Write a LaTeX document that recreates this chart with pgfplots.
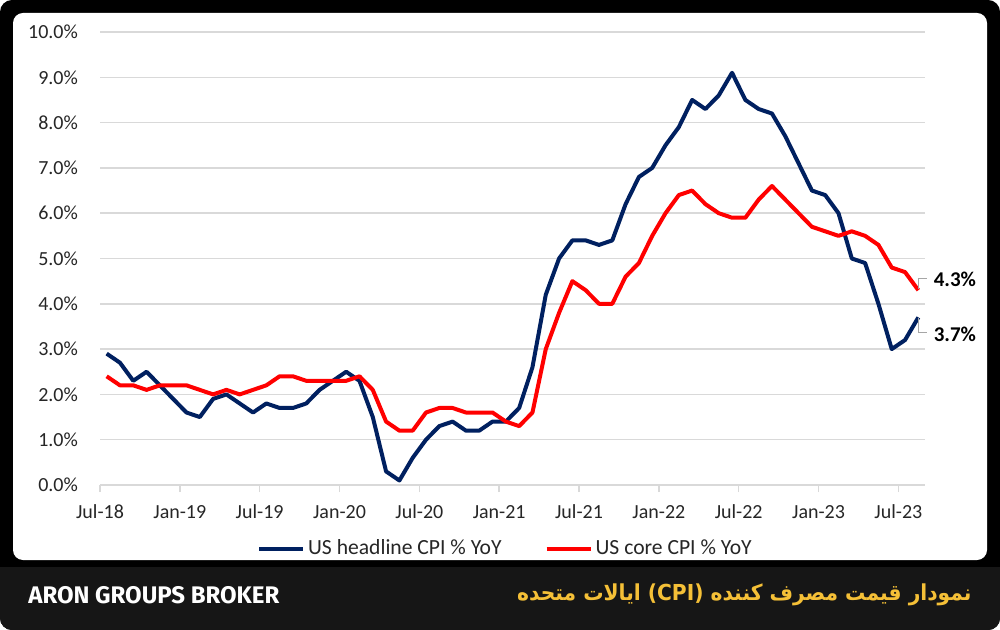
\documentclass[border=0pt]{standalone}
\usepackage{fontspec}
\setmainfont{Carlito}
\newfontfamily\arabicfont[Script=Arabic]{DejaVu Sans}
\newfontfamily\brandfont{Fira Sans}
\usepackage{pgfplots}
\pgfplotsset{compat=1.18}
\usepackage{pgfplotstable}
\TeXXeTstate=1
\definecolor{cpiblue}{RGB}{0,32,96}
\definecolor{cpired}{RGB}{255,0,0}
\definecolor{gridgray}{RGB}{217,217,217}
\definecolor{gold}{RGB}{245,192,55}
\definecolor{barbg}{RGB}{22,22,22}

\pgfplotstableread{
x head core
0.5 2.9 2.4
1.5 2.7 2.2
2.5 2.3 2.2
3.5 2.5 2.1
4.5 2.2 2.2
5.5 1.9 2.2
6.5 1.6 2.2
7.5 1.5 2.1
8.5 1.9 2.0
9.5 2.0 2.1
10.5 1.8 2.0
11.5 1.6 2.1
12.5 1.8 2.2
13.5 1.7 2.4
14.5 1.7 2.4
15.5 1.8 2.3
16.5 2.1 2.3
17.5 2.3 2.3
18.5 2.5 2.3
19.5 2.3 2.4
20.5 1.5 2.1
21.5 0.3 1.4
22.5 0.1 1.2
23.5 0.6 1.2
24.5 1.0 1.6
25.5 1.3 1.7
26.5 1.4 1.7
27.5 1.2 1.6
28.5 1.2 1.6
29.5 1.4 1.6
30.5 1.4 1.4
31.5 1.7 1.3
32.5 2.6 1.6
33.5 4.2 3.0
34.5 5.0 3.8
35.5 5.4 4.5
36.5 5.4 4.3
37.5 5.3 4.0
38.5 5.4 4.0
39.5 6.2 4.6
40.5 6.8 4.9
41.5 7.0 5.5
42.5 7.5 6.0
43.5 7.9 6.4
44.5 8.5 6.5
45.5 8.3 6.2
46.5 8.6 6.0
47.5 9.1 5.9
48.5 8.5 5.9
49.5 8.3 6.3
50.5 8.2 6.6
51.5 7.7 6.3
52.5 7.1 6.0
53.5 6.5 5.7
54.5 6.4 5.6
55.5 6.0 5.5
56.5 5.0 5.6
57.5 4.9 5.5
58.5 4.0 5.3
59.5 3.0 4.8
60.5 3.2 4.7
61.5 3.7 4.3
}\cpidata

\begin{document}
\begin{tikzpicture}
\begin{scope}[x=0.5pt,y=-0.5pt]
\useasboundingbox (0,0) rectangle (1000,630);
\fill[black, rounded corners=6pt] (0,0) rectangle (1000,630);
\fill[barbg, rounded corners=6pt] (0,567) rectangle (1000,630);
\fill[barbg] (0,567) rectangle (1000,590);
\fill[white, rounded corners=5pt] (13,13) rectangle (987,560);
\node[anchor=west, text=white, inner sep=0pt, font=\brandfont\bfseries\fontsize{12}{14}\selectfont] at (28,595) {ARON GROUPS BROKER};
\node[anchor=east, text=gold, inner sep=0pt, font=\arabicfont\bfseries\fontsize{11}{13}\selectfont] at (972,595) {\scalebox{0.92}[1]{\beginR نمودار قیمت مصرف کننده \beginL(CPI)\endL{} ایالات متحده\endR}};
\end{scope}
\begin{axis}[
  at={(50pt,-242.5pt)}, anchor=south west,
  width=412.5pt, height=226.5pt, scale only axis,
  xmin=0, xmax=62, ymin=0, ymax=10,
  axis x line*=bottom, axis y line*=left,
  y axis line style={draw=none},
  x axis line style={gridgray, line width=0.7pt},
  xtick={0,6,...,60},
  xticklabels={Jul-18,Jan-19,Jul-19,Jan-20,Jul-20,Jan-21,Jul-21,Jan-22,Jul-22,Jan-23,Jul-23},
  xtick style={gridgray, line width=0.7pt},
  tick align=outside,
  major tick length=3.5pt,
  ytick={0,1,...,10},
  ytick style={draw=none},
  ymajorgrids,
  major grid style={gridgray, line width=0.7pt},
  yticklabel={\pgfmathprintnumber[fixed,fixed zerofill,precision=1]{\tick}\%},
  /pgf/number format/assume math mode=true,
  ticklabel style={font=\fontsize{10}{12}\selectfont, text=black!85},
  yticklabel style={xshift=-4pt},
  xticklabel style={yshift=-3pt},
  legend style={at={(0.492,-0.141)}, anchor=center, draw=none, fill=none,
    font=\fontsize{10.8}{12}\selectfont, text=black!85,
    /tikz/every even column/.append style={column sep=20pt},
    nodes={inner xsep=1.5pt}},
  legend columns=2,
  legend image code/.code={\draw[#1, line width=2pt] (0pt,0pt) -- (22pt,0pt);},
  clip=false,
]
\addplot[cpiblue, line width=2pt, line join=round] table[x=x, y=head] {\cpidata};
\addlegendentry{US headline CPI \% YoY}
\addplot[cpired, line width=2pt, line join=round] table[x=x, y=core] {\cpidata};
\addlegendentry{US core CPI \% YoY}
\draw[gray!70, line width=0.5pt] ([yshift=0.5pt]axis cs:61.5,4.3) -- ++(0,5.5pt) -- ++(4.5pt,0);
\node[anchor=west, inner sep=0pt, font=\bfseries\fontsize{10.5}{12}\selectfont] at ([xshift=7.5pt,yshift=5.5pt]axis cs:61.5,4.3) {4.3\%};
\draw[gray!70, line width=0.5pt] ([yshift=-0.5pt]axis cs:61.5,3.7) -- ++(0,-7pt) -- ++(4.5pt,0);
\node[anchor=west, inner sep=0pt, font=\bfseries\fontsize{10.5}{12}\selectfont] at ([xshift=7.5pt,yshift=-8.5pt]axis cs:61.5,3.7) {3.7\%};
\end{axis}
\end{tikzpicture}
\end{document}
